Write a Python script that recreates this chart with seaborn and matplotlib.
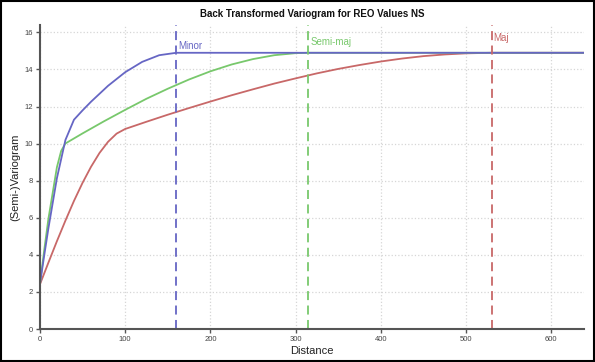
import matplotlib
matplotlib.use("Agg")
import matplotlib.pyplot as plt
import seaborn as sns
import pandas as pd

# Distances and variogram values
minor_x = [0, 5, 10, 20, 30, 40, 50, 60, 80, 100, 120, 140, 160, 640]
minor_y = [2.4, 3.94, 5.43, 8.14, 10.2, 11.29, 11.79, 12.26, 13.12, 13.85, 14.41, 14.77, 14.9, 14.9]

semi_x = [0, 5, 10, 20, 25, 30, 40, 50, 75, 100, 125, 150, 175, 200, 225, 250, 275, 300, 315, 640]
semi_y = [2.4, 4.22, 5.94, 8.73, 9.61, 10.01, 10.28, 10.55, 11.2, 11.82, 12.42, 12.96, 13.46,
          13.9, 14.27, 14.56, 14.77, 14.88, 14.9, 14.9]

maj_x = [0, 5, 10, 20, 30, 40, 50, 60, 70, 80, 90, 100, 125, 150, 175, 200, 225, 250, 275,
         300, 325, 350, 375, 400, 425, 450, 475, 500, 530, 640]
maj_y = [2.4, 2.99, 3.58, 4.74, 5.85, 6.91, 7.88, 8.75, 9.5, 10.1, 10.54, 10.79, 11.18, 11.56,
         11.92, 12.27, 12.61, 12.93, 13.24, 13.52, 13.79, 14.03, 14.24, 14.43, 14.59, 14.72,
         14.81, 14.87, 14.9, 14.9]

ranges = {"Minor": 160, "Semi-maj": 315, "Maj": 530}
label_y = {"Minor": 15.0, "Semi-maj": 15.2, "Maj": 15.45}
colors = {"Minor": "#6666c4", "Semi-maj": "#78c86c", "Maj": "#c86868"}

df = pd.concat([
    pd.DataFrame({"Distance": minor_x, "gamma": minor_y, "dir": "Minor"}),
    pd.DataFrame({"Distance": semi_x, "gamma": semi_y, "dir": "Semi-maj"}),
    pd.DataFrame({"Distance": maj_x, "gamma": maj_y, "dir": "Maj"}),
])

sns.set_theme(style="white")
plt.rcParams['font.family'] = ['Liberation Sans', 'DejaVu Sans']

fig = plt.figure(figsize=(5.95, 3.62), dpi=100)
ax = fig.add_axes([0.067, 0.091, 0.914, 0.84])

for d in ["Maj", "Semi-maj", "Minor"]:
    sub = df[df["dir"] == d]
    sns.lineplot(data=sub, x="Distance", y="gamma", color=colors[d], lw=1.3, ax=ax,
                 legend=False, estimator=None, sort=False)

for d, r in ranges.items():
    ax.axvline(r, color=colors[d], ls=(0, (5, 3)), lw=1.3)
    ax.text(r + 2, label_y[d], d, color=colors[d], fontsize=7, ha="left", va="bottom")

ax.set_xlim(0, 638)
ax.set_ylim(0, 16.4)
ax.set_xticks([0, 100, 200, 300, 400, 500, 600])
ax.set_yticks([0, 2, 4, 6, 8, 10, 12, 14, 16])
ax.grid(True, color="#d6d6d6", ls=":", lw=0.9)
ax.set_axisbelow(True)
for s in ["top", "right"]:
    ax.spines[s].set_visible(False)
for s in ["left", "bottom"]:
    ax.spines[s].set_color("#555555")
    ax.spines[s].set_linewidth(1.5)
ax.tick_params(axis="both", which="both", direction="out", length=3, width=1,
               color="#555555", labelsize=5.5, labelcolor="#444444", pad=2,
               bottom=True, left=True)
ax.set_xlabel("Distance", fontsize=8, labelpad=2, color="#222222")
ax.set_ylabel("(Semi-)Variogram", fontsize=8, labelpad=3, color="#222222")
ax.set_title("Back Transformed Variogram for REO Values NS", fontsize=7,
             fontweight="bold", pad=6, color="#111111")

fig.patches.append(plt.Rectangle((0.002, 0.003), 0.996, 0.994, transform=fig.transFigure,
                                 fill=False, edgecolor="black", lw=1.5))

fig.savefig("out.png", dpi=100)
